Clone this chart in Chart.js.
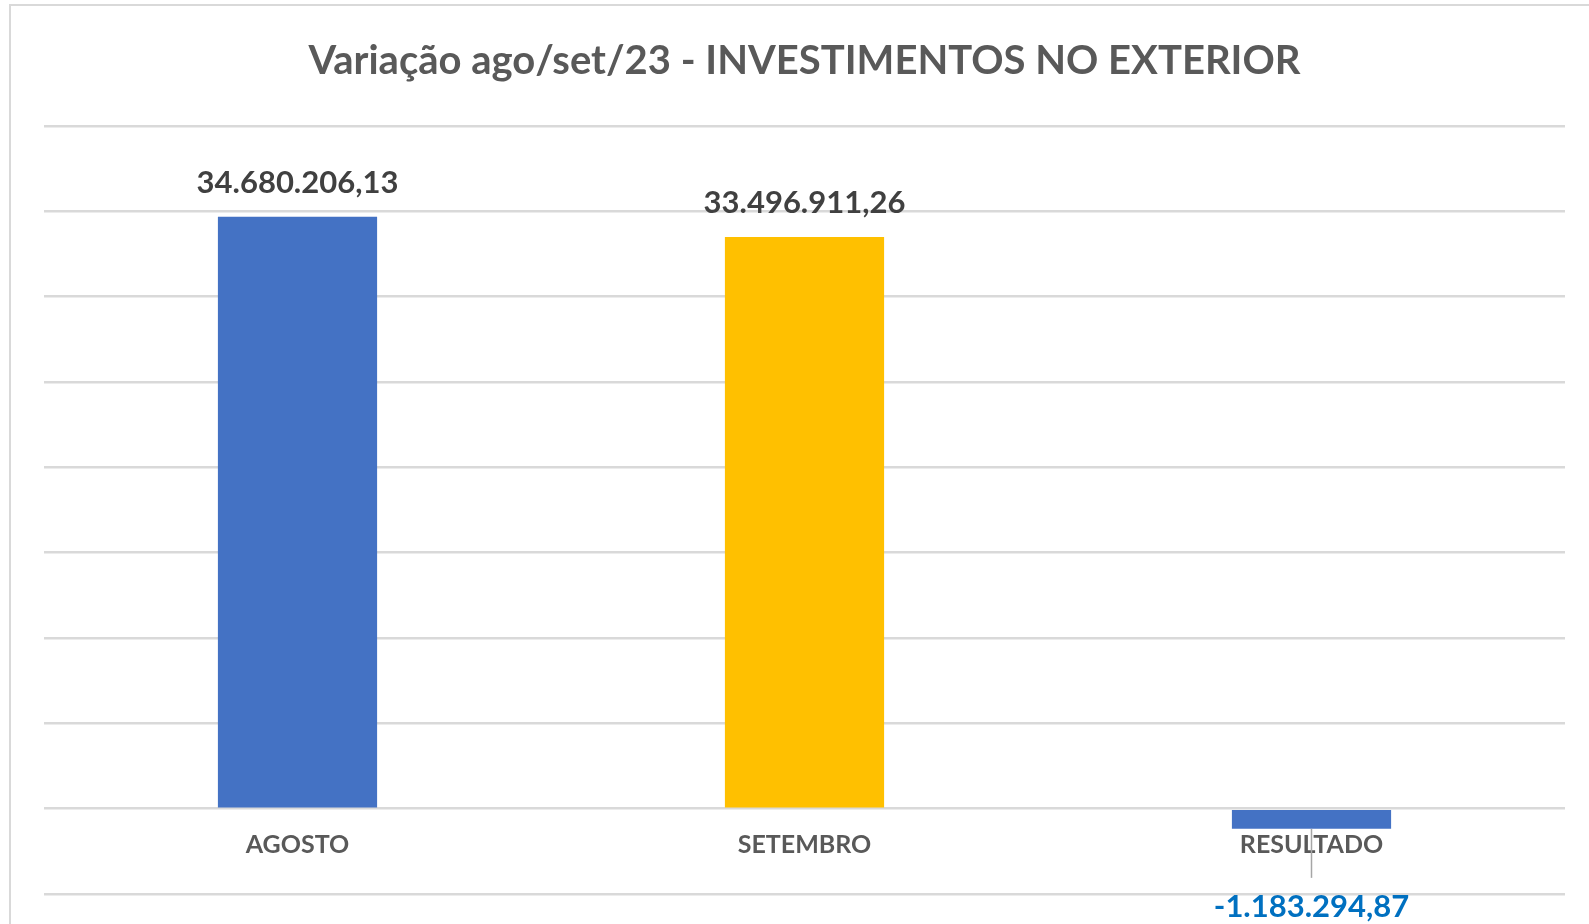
<!DOCTYPE html>
<html>
<head>
<meta charset="utf-8">
<script src="https://cdn.jsdelivr.net/npm/chart.js@4"></script>
<style>
  html, body { margin: 0; padding: 0; background: #fff; overflow: hidden; }
  #moldura {
    position: absolute; left: 9px; top: 4px; width: 2000px; height: 2000px;
    border-left: 2px solid #d9d9d9; border-top: 2px solid #d9d9d9;
  }
  #grafico { position: absolute; left: 0; top: 0; }
</style>
</head>
<body>
<div id="moldura"></div>
<canvas id="grafico" width="1589" height="924"></canvas>
<script>
const categorias = ["AGOSTO", "SETEMBRO", "RESULTADO"];
const valores = [34680206.13, 33496911.26, -1183294.87];
const coresBarras = ["#4472C4", "#FFC000", "#4472C4"];
const titulo = "Variação ago/set/23 - INVESTIMENTOS NO EXTERIOR";

function formatarBR(v) {
  const neg = v < 0;
  const partes = Math.abs(v).toFixed(2).split('.');
  const inteiro = partes[0].replace(/\B(?=(\d{3})+(?!\d))/g, '.');
  return (neg ? '-' : '') + inteiro + ',' + partes[1];
}

// rotulos de valor em cima / embaixo das barras
const rotulosValor = {
  id: 'rotulosValor',
  afterDraw(chart) {
    const ctx = chart.ctx;
    const meta = chart.getDatasetMeta(0);
    meta.data.forEach((bar, i) => {
      const v = valores[i];
      ctx.save();
      ctx.font = 'bold 31px Lato';
      ctx.textAlign = 'center';
      ctx.textBaseline = 'middle';
      if (v >= 0) {
        ctx.fillStyle = '#404040';
        ctx.fillText(formatarBR(v), bar.x, bar.y - 34);
      } else {
        ctx.strokeStyle = '#a6a6a6';
        ctx.lineWidth = 1.5;
        ctx.beginPath();
        ctx.moveTo(bar.x, bar.y);
        ctx.lineTo(bar.x, bar.y + 49);
        ctx.stroke();
        ctx.fillStyle = '#0070C0';
        ctx.fillText(formatarBR(v), bar.x, bar.y + 78);
      }
      ctx.restore();
    });
  }
};

new Chart(document.getElementById('grafico'), {
  type: 'bar',
  data: {
    labels: categorias,
    datasets: [{
      data: valores,
      backgroundColor: coresBarras,
      borderWidth: 0,
      barPercentage: 0.314,
      categoryPercentage: 1
    }]
  },
  options: {
    responsive: false,
    devicePixelRatio: 1,
    animation: false,
    layout: { padding: { left: 44, right: 24, top: 0, bottom: 30 } },
    plugins: {
      legend: { display: false },
      tooltip: { enabled: false },
      title: {
        display: true,
        text: titulo,
        color: '#595959',
        font: { family: 'Lato', size: 40, weight: 'bold', lineHeight: 1.2 },
        padding: { top: 37, bottom: 41 }
      }
    },
    scales: {
      x: {
        position: { y: 0 },
        grid: { display: false, drawTicks: false },
        border: { display: false },
        ticks: {
          color: '#595959',
          font: { family: 'Lato', size: 25, weight: 'bold' },
          padding: 21
        }
      },
      y: {
        min: -5000000,
        max: 40000000,
        border: { display: false },
        grid: { color: '#d9d9d9', lineWidth: 2.5, drawTicks: false },
        ticks: { display: false, stepSize: 5000000 }
      }
    }
  },
  plugins: [rotulosValor]
});
</script>
</body>
</html>
